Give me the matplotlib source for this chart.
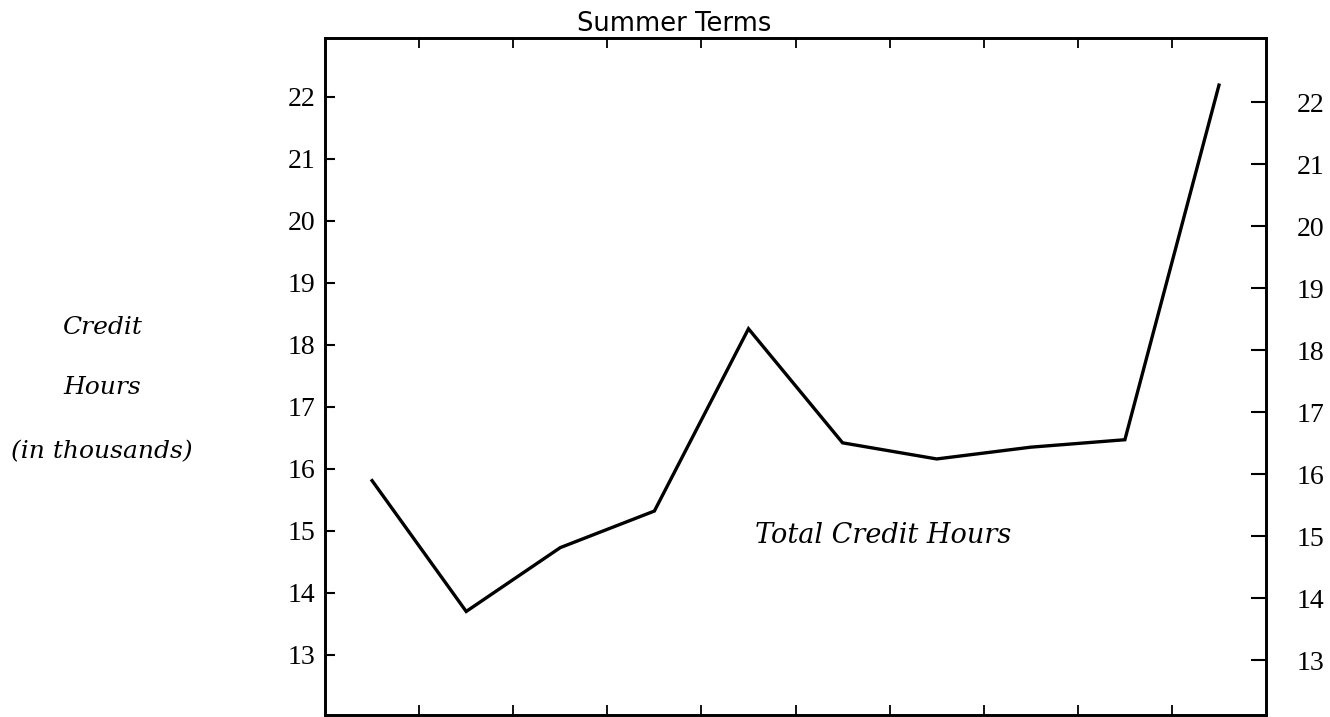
import matplotlib
matplotlib.use("Agg")
import matplotlib.pyplot as plt
import numpy as np

# total credit hours per summer term, in thousands
credit_hours = [15.81, 13.70, 14.73, 15.32, 18.26, 16.42, 16.16, 16.35, 16.47, 22.19]
y_ticks = [13, 14, 15, 16, 17, 18, 19, 20, 21, 22]
term_bounds = [1, 2, 3, 4, 5, 6, 7, 8, 9]

fig = plt.figure(figsize=(13.3, 7.17), dpi=100)
ax = fig.add_axes([0.2444, 0.0028, 0.7075, 0.9442])

x = np.arange(len(credit_hours)) + 0.5
ax.plot(x, credit_hours, color="black", lw=2.4, solid_joinstyle="miter")

ax.set_xlim(0, 10)
ax.set_ylim(12.03, 22.95)
ax.set_xticks(term_bounds)
ax.set_xticklabels([])
ax.set_yticks(y_ticks)
ax.set_yticklabels([str(v) for v in y_ticks], family="Liberation Serif", fontsize=20)
ax.tick_params(axis="y", direction="in", length=7, width=1.5, pad=7, left=True, right=False)
ax.tick_params(axis="x", direction="in", length=7, width=1.3, top=True, bottom=True)
for s in ax.spines.values():
    s.set_linewidth(1.9)

ax2 = ax.twinx()
ax2.set_ylim(12.12, 23.04)
ax2.set_yticks(y_ticks)
ax2.set_yticklabels([str(v) for v in y_ticks], family="Liberation Serif", fontsize=20)
ax2.tick_params(axis="y", direction="in", length=11, width=1.5, pad=22)
for s in ax2.spines.values():
    s.set_linewidth(1.9)

fig.text(674 / 1330, 1 - 24 / 717, "Summer Terms", family="DejaVu Sans", fontsize=18.5,
         ha="center", va="center")

ax.text(5.93, 14.92, "Total Credit Hours", family="DejaVu Serif", style="italic",
        fontsize=19.5, ha="center", va="center")

for label, ypix in [("Credit", 327), ("Hours", 388), ("(in thousands)", 452)]:
    fig.text(102 / 1330, 1 - ypix / 717, label, family="DejaVu Serif", style="italic",
             fontsize=18, ha="center", va="center")

fig.savefig("out.png", dpi=100)
